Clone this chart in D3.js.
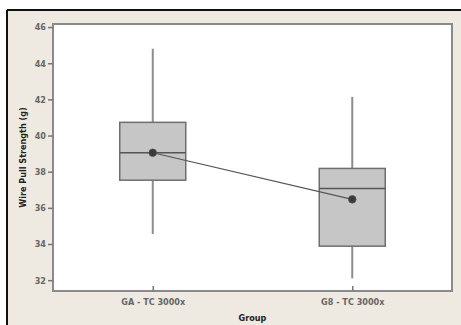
<!DOCTYPE html>
<meta charset="utf-8">
<script src="https://d3js.org/d3.v7.min.js"></script>
<style>
  body { margin: 0; background: #fff; }
  text { font-family: "DejaVu Sans Condensed", "DejaVu Sans", sans-serif; }
</style>
<body>
<div id="chart"></div>
<script>

// data
var groups = ["GA - TC 3000x", "G8 - TC 3000x"];
var whiskerLow  = [34.55, 32.1];
var q1          = [37.53, 33.88];
var median      = [39.05, 37.07];
var q3          = [40.73, 38.18];
var whiskerHigh = [44.8, 42.14];
var means       = [39.05, 36.47];
var yTicks = [32, 34, 36, 38, 40, 42, 44, 46];

var W = 461, H = 325;
var margin = {top: 24, right: 9, bottom: 34, left: 53},
    width = W - margin.left - margin.right,
    height = H - margin.top - margin.bottom;

var svg = d3.select("#chart").append("svg")
    .attr("width", W)
    .attr("height", H);

// beige panel with dark border on top/left
svg.append("rect").attr("x", 0).attr("y", 0).attr("width", W).attr("height", H).attr("fill", "#ffffff");
svg.append("rect").attr("x", 7).attr("y", 10).attr("width", W - 7).attr("height", H - 10).attr("fill", "#eeeae1");
svg.append("line").attr("x1", 7).attr("x2", W).attr("y1", 10).attr("y2", 10).attr("stroke", "#111").attr("stroke-width", 2);
svg.append("line").attr("x1", 7).attr("x2", 7).attr("y1", 10).attr("y2", H).attr("stroke", "#111").attr("stroke-width", 2);

var g = svg.append("g")
    .attr("transform", "translate(" + margin.left + "," + margin.top + ")");

var x = d3.scalePoint().domain(groups).range([0, width]).padding(0.5);
var y = d3.scaleLinear().domain([31.4, 46.17]).range([height, 0]);

// plot area
g.append("rect").attr("width", width).attr("height", height)
  .attr("fill", "#ffffff").attr("stroke", "#8a8a8a").attr("stroke-width", 2);

// axes
var yAxis = g.append("g").call(d3.axisLeft(y).tickValues(yTicks).tickSize(5).tickPadding(2));
var xAxis = g.append("g").attr("transform", "translate(0," + height + ")")
  .call(d3.axisBottom(x).tickSize(5).tickPadding(4));
xAxis.selectAll(".tick line").attr("transform", "translate(0,-5)");
[yAxis, xAxis].forEach(function(a) {
  a.select(".domain").remove();
  a.selectAll(".tick line").attr("stroke", "#777").attr("stroke-width", 1.5);
  a.selectAll("text").attr("fill", "#666").style("font-size", "9px").style("font-weight", "bold");
});
xAxis.selectAll("text").attr("dy", "0.6em");

var boxW = 66;
var data = groups.map(function(d, i) {
  return {g: d, lo: whiskerLow[i], q1: q1[i], med: median[i], q3: q3[i], hi: whiskerHigh[i], mean: means[i]};
});

// whiskers
var b = g.selectAll(".box").data(data).enter().append("g");
b.append("line")
  .attr("x1", function(d) { return x(d.g); }).attr("x2", function(d) { return x(d.g); })
  .attr("y1", function(d) { return y(d.q3); }).attr("y2", function(d) { return y(d.hi); })
  .attr("stroke", "#8c8c8c").attr("stroke-width", 2);
b.append("line")
  .attr("x1", function(d) { return x(d.g); }).attr("x2", function(d) { return x(d.g); })
  .attr("y1", function(d) { return y(d.q1); }).attr("y2", function(d) { return y(d.lo); })
  .attr("stroke", "#8c8c8c").attr("stroke-width", 2);
// boxes
b.append("rect")
  .attr("x", function(d) { return x(d.g) - boxW / 2; })
  .attr("y", function(d) { return y(d.q3); })
  .attr("width", boxW)
  .attr("height", function(d) { return y(d.q1) - y(d.q3); })
  .attr("fill", "#c6c6c6").attr("stroke", "#6e6e6e").attr("stroke-width", 1.5);
b.append("line")
  .attr("x1", function(d) { return x(d.g) - boxW / 2; }).attr("x2", function(d) { return x(d.g) + boxW / 2; })
  .attr("y1", function(d) { return y(d.med); }).attr("y2", function(d) { return y(d.med); })
  .attr("stroke", "#555").attr("stroke-width", 1.5);

// mean connect line
g.append("path").datum(data)
  .attr("fill", "none").attr("stroke", "#555").attr("stroke-width", 1.2)
  .attr("d", d3.line().x(function(d) { return x(d.g); }).y(function(d) { return y(d.mean); }));
g.selectAll(".mean").data(data).enter().append("circle")
  .attr("cx", function(d) { return x(d.g); }).attr("cy", function(d) { return y(d.mean); })
  .attr("r", 3.8).attr("fill", "#3a3a3a").attr("stroke", "#555").attr("stroke-width", 0.8);

// axis titles
svg.append("text")
  .attr("transform", "translate(26," + (margin.top + height / 2) + ") rotate(-90)")
  .attr("text-anchor", "middle")
  .style("font-size", "9px").style("font-weight", "bold").attr("fill", "#222")
  .text("Wire Pull Strength (g)");
svg.append("text")
  .attr("x", margin.left + width / 2).attr("y", 321)
  .attr("text-anchor", "middle")
  .style("font-size", "9px").style("font-weight", "bold").attr("fill", "#222")
  .text("Group");

</script>
</body>
